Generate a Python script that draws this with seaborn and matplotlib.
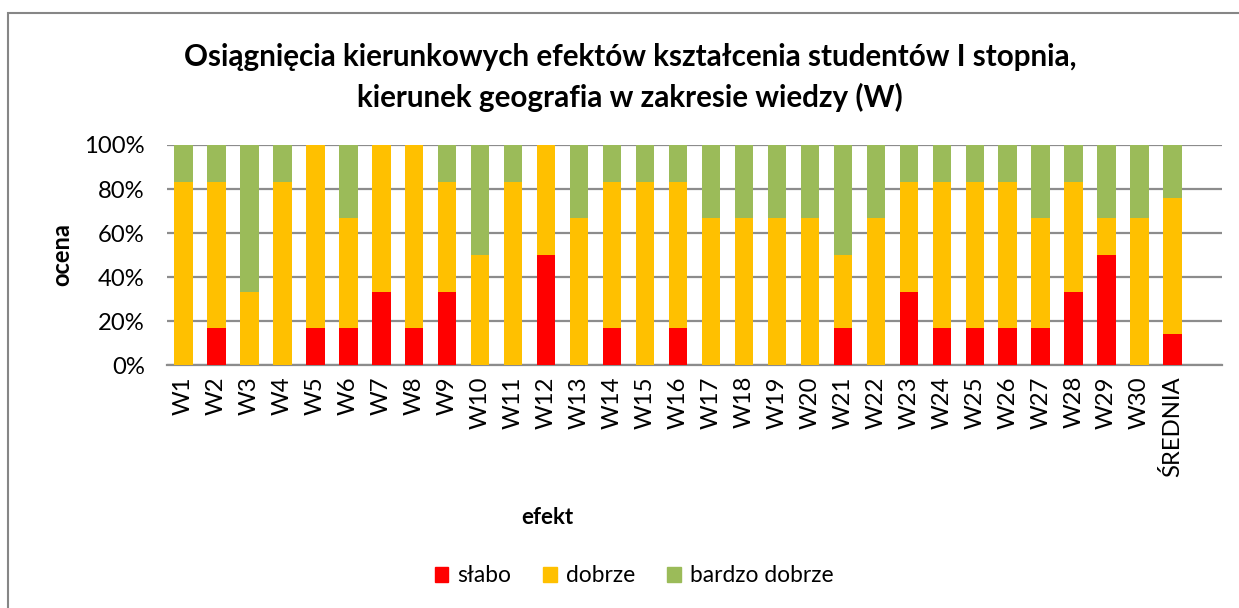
import matplotlib
matplotlib.use("Agg")
import matplotlib.pyplot as plt
import seaborn as sns
import pandas as pd
import numpy as np
from matplotlib.patches import Rectangle
from matplotlib.ticker import PercentFormatter

categories = ["W1", "W2", "W3", "W4", "W5", "W6", "W7", "W8", "W9", "W10",
              "W11", "W12", "W13", "W14", "W15", "W16", "W17", "W18", "W19", "W20",
              "W21", "W22", "W23", "W24", "W25", "W26", "W27", "W28", "W29", "W30",
              "ŚREDNIA"]
slabo = [0, 16.7, 0, 0, 16.7, 16.7, 33.3, 16.7, 33.3, 0,
         0, 50, 0, 16.7, 0, 16.7, 0, 0, 0, 0,
         16.7, 0, 33.3, 16.7, 16.7, 16.7, 16.7, 33.3, 50, 0,
         13.9]
dobrze = [83.3, 66.7, 33.3, 83.3, 83.3, 50, 66.7, 83.3, 50, 50,
          83.3, 50, 66.7, 66.7, 83.3, 66.7, 66.7, 66.7, 66.7, 66.7,
          33.3, 66.7, 50, 66.7, 66.7, 66.7, 50, 50, 16.7, 66.7,
          62.2]
bardzo_dobrze = [16.7, 16.7, 66.7, 16.7, 0, 33.3, 0, 0, 16.7, 50,
                 16.7, 0, 33.3, 16.7, 16.7, 16.7, 33.3, 33.3, 33.3, 33.3,
                 50, 33.3, 16.7, 16.7, 16.7, 16.7, 33.3, 16.7, 33.3, 33.3,
                 23.9]
series_names = ["słabo", "dobrze", "bardzo dobrze"]
colors = ["#FF0000", "#FFC000", "#9BBB59"]

sns.set_theme(style="white")
plt.rcParams["font.family"] = ["Lato", "DejaVu Sans"]
plt.rcParams["text.color"] = "black"

df = pd.DataFrame({"efekt": categories, "słabo": slabo, "dobrze": dobrze,
                   "bardzo dobrze": bardzo_dobrze})
df["top_dobrze"] = df["słabo"] + df["dobrze"]
df["top_all"] = df["top_dobrze"] + df["bardzo dobrze"]

W, H = 1239, 608
fig = plt.figure(figsize=(W / 100, H / 100), dpi=100)
ax = fig.add_axes([167 / W, 1 - 365 / H, (1222 - 167) / W, 220 / H])

for col, c in zip(["top_all", "top_dobrze", "słabo"], colors[::-1]):
    sns.barplot(data=df, x="efekt", y=col, order=categories, color=c,
                width=0.56, ax=ax, saturation=1, edgecolor="none", linewidth=0,
                zorder=3)

ax.set_xlim(-0.5, 31.5)
ax.set_ylim(0, 100)
ax.set_yticks([0, 20, 40, 60, 80, 100])
ax.yaxis.set_major_formatter(PercentFormatter(decimals=0))
ax.grid(axis="y", color="#8c8c8c", linewidth=1.6, zorder=0)
ax.grid(axis="x", visible=False)
for s in ["left", "right", "top"]:
    ax.spines[s].set_visible(False)
ax.spines["bottom"].set_color("#8c8c8c")
ax.spines["bottom"].set_linewidth(1.6)
ax.tick_params(axis="y", labelsize=17.2, length=0, pad=16, colors="black")
ax.tick_params(axis="x", labelsize=17.2, length=0, pad=8, colors="black",
               labelrotation=90)
ax.set_xlabel("")
ax.set_ylabel("")

fig.text(62 / W, 1 - 255 / H, "ocena", rotation=90, ha="center", va="center",
         fontsize=17, fontweight="bold", color="black")
fig.text(547 / W, 1 - 517 / H, "efekt", ha="center", va="center",
         fontsize=16, fontweight="bold", color="black")
fig.text(630 / W, 1 - 57 / H, "Osiągnięcia kierunkowych efektów kształcenia studentów I stopnia,",
         ha="center", va="center", fontsize=21.3, fontweight="bold", color="black")
fig.text(630 / W, 1 - 97 / H, "kierunek geografia w zakresie wiedzy (W)",
         ha="center", va="center", fontsize=21.3, fontweight="bold", color="black")

handles = [Rectangle((0, 0), 1, 1, color=c) for c in colors]
leg = fig.legend(handles, series_names, loc="center", bbox_to_anchor=(634 / W, 1 - 576 / H),
                 ncol=3, frameon=False, fontsize=16.4, handlelength=0.6, handleheight=0.6,
                 handletextpad=0.4, columnspacing=1.4)
for t in leg.get_texts():
    t.set_color("black")

fig.patches.append(Rectangle((8 / W, -0.2), 1.2, (H - 13) / H + 0.2,
                             transform=fig.transFigure, fill=False,
                             edgecolor="#868686", linewidth=1.5))

fig.savefig("out.png", dpi=100, facecolor="white")
